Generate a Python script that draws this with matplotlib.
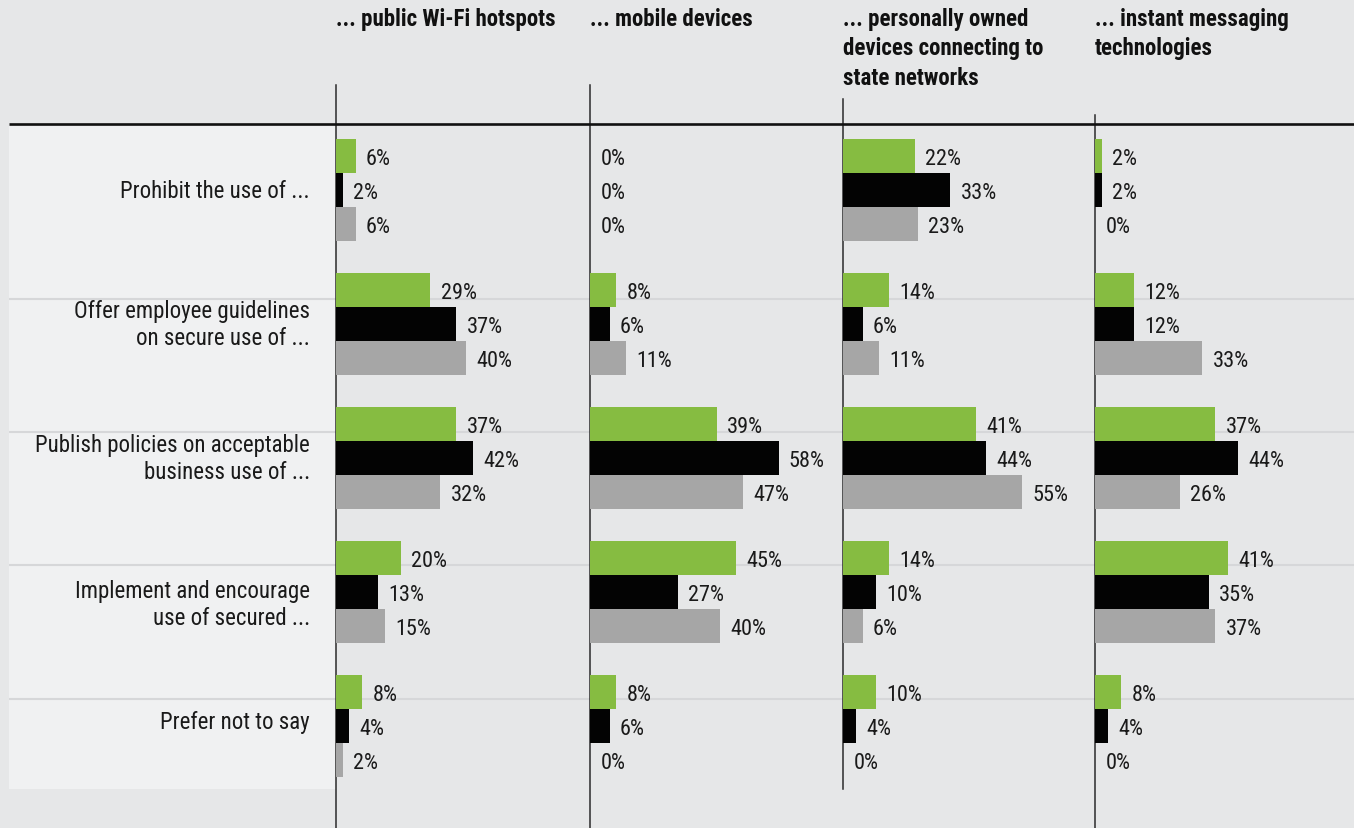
import matplotlib
matplotlib.use("Agg")
import matplotlib.pyplot as plt
import matplotlib.transforms as mtransforms
from matplotlib.patches import Rectangle

plt.rcParams['font.family'] = ['Roboto Condensed', 'Liberation Sans Narrow', 'Roboto', 'DejaVu Sans']

# ---- data -------------------------------------------------------------
categories = [
    "Prohibit the use of ...",
    "Offer employee guidelines\non secure use of ...",
    "Publish policies on acceptable\nbusiness use of ...",
    "Implement and encourage\nuse of secured ...",
    "Prefer not to say",
]
topics = [
    "... public Wi-Fi hotspots",
    "... mobile devices",
    "... personally owned\ndevices connecting to\nstate networks",
    "... instant messaging\ntechnologies",
]

# one list per topic, one value per category (percent)
wifi_green = [6, 29, 37, 20, 8]
wifi_black = [2, 37, 42, 13, 4]
wifi_gray = [6, 40, 32, 15, 2]

mobile_green = [0, 8, 39, 45, 8]
mobile_black = [0, 6, 58, 27, 6]
mobile_gray = [0, 11, 47, 40, 0]

personal_green = [22, 14, 41, 14, 10]
personal_black = [33, 6, 44, 10, 4]
personal_gray = [23, 11, 55, 6, 0]

im_green = [2, 12, 37, 41, 8]
im_black = [2, 12, 44, 35, 4]
im_gray = [0, 33, 26, 37, 0]

panels = [
    (wifi_green, wifi_black, wifi_gray),
    (mobile_green, mobile_black, mobile_gray),
    (personal_green, personal_black, personal_gray),
    (im_green, im_black, im_gray),
]

# ---- style ------------------------------------------------------------
BG = "#e6e7e8"
LEFT_BG = "#f0f1f2"
SEP = "#d6d7d9"
GREEN = "#86bc41"
BLACK = "#030303"
GRAY = "#a6a6a6"
series_colors = [GREEN, BLACK, GRAY]

W, H = 1354, 829
fig = plt.figure(figsize=(W / 100, H / 100), dpi=100, facecolor=BG)

# background canvas in pixel coordinates
bg = fig.add_axes([0, 0, 1, 1])
bg.set_xlim(0, W)
bg.set_ylim(H, 0)
bg.axis("off")
bg.set_facecolor(BG)

# label column panel
bg.add_patch(Rectangle((9, 127), 327, 663, facecolor=LEFT_BG, edgecolor="none", zorder=0))

# thin row separators
for ysep in [300, 433, 566, 700]:
    bg.plot([9, W], [ysep, ysep], color=SEP, lw=1.5, zorder=1, solid_capstyle="butt")

# header rule
bg.plot([9, W], [125, 125], color="#111111", lw=1.9, zorder=3, solid_capstyle="butt")

# panel geometry (pixels)
panel_x = [336, 590, 843, 1095]
panel_w = 253
rule_spans = [(86, 829), (86, 829), (100, 790), (116, 829)]
for x, (y0, y1) in zip(panel_x, rule_spans):
    bg.plot([x, x], [y0, y1], color="#2b2b2b", lw=1.1, zorder=2)

for x, t in zip(panel_x, topics):
    bg.text(x, 8, t, ha="left", va="top", fontsize=16.5, fontweight="bold",
            color="#111111", linespacing=1.36)

# bar panels
top_px, bot_px = 125, 829
first_center, step = 191, 134
bar_h = 34 / step
px_per_pct = 3.25
ylim_top = (top_px - first_center) / step
ylim_bot = (bot_px - first_center) / step

axes = []
for k, (x, series) in enumerate(zip(panel_x, panels)):
    ax = fig.add_axes([x / W, 1 - bot_px / H, panel_w / W, (bot_px - top_px) / H])
    ax.set_xlim(0, panel_w / px_per_pct)
    ax.set_ylim(ylim_bot, ylim_top)
    ax.axis("off")
    ax.patch.set_alpha(0)
    for j, (vals, col) in enumerate(zip(series, series_colors)):
        ys = [i + (j - 1) * bar_h for i in range(len(categories))]
        ax.barh(ys, vals, height=bar_h, color=col, edgecolor="none", zorder=3)
        for y, v in zip(ys, vals):
            ax.annotate(f"{v}%", (v, y), xytext=(7.5, -1.8), textcoords="offset points",
                        ha="left", va="center", fontsize=16, color="#1a1a1a")
    axes.append(ax)

# category labels, right aligned against the first panel
label_y_shift = [0, 0, 0, 0.09, -0.03]
tr = mtransforms.blended_transform_factory(bg.transData, axes[0].transData)
for i, (lab, dy) in enumerate(zip(categories, label_y_shift)):
    bg.text(310, i + dy, lab, transform=tr, ha="right", va="center",
            fontsize=16.5, color="#1a1a1a", linespacing=1.25)

fig.savefig("out.png", dpi=100, facecolor=BG)
